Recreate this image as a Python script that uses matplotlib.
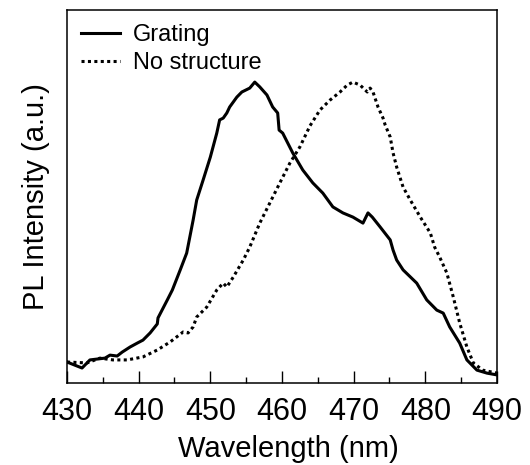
import numpy as np
import matplotlib.pyplot as plt
from matplotlib.ticker import MultipleLocator

plt.rcParams['font.family'] = ['Liberation Sans', 'DejaVu Sans']

# PL spectra (normalised, peak ~1)
grating_wl = [430, 432.1, 433.2, 435.3, 436, 437, 437.7, 438.8, 439.8, 440.6,
              441.6, 442.6, 442.7, 444, 444.7, 445.8, 446.7, 447.6, 448.1, 449,
              450, 450.9, 451.3, 451.8, 452.3, 452.7, 453.7, 454.4, 455.5, 456.2,
              456.9, 457.9, 458.7, 459.4, 459.6, 460.1, 461.5, 462.9, 464.3, 465.7,
              467.1, 468.5, 469.9, 471.3, 472, 472.6, 473.7, 475.1, 475.5, 476,
              476.9, 478.8, 480.2, 481.6, 482.5, 483.4, 484.8, 485.8, 487.2, 488.6,
              490]
grating_int = [0.07, 0.05, 0.077, 0.083, 0.093, 0.09, 0.103, 0.12, 0.133, 0.143,
               0.167, 0.197, 0.217, 0.277, 0.31, 0.377, 0.433, 0.543, 0.61, 0.677,
               0.753, 0.833, 0.877, 0.883, 0.9, 0.92, 0.953, 0.97, 0.983, 1.003,
               0.987, 0.96, 0.92, 0.9, 0.843, 0.833, 0.767, 0.71, 0.667, 0.633,
               0.587, 0.567, 0.553, 0.533, 0.567, 0.553, 0.52, 0.477, 0.443, 0.41,
               0.377, 0.333, 0.277, 0.243, 0.233, 0.187, 0.133, 0.077, 0.043, 0.033,
               0.027]

nostruct_wl = [430, 432.8, 434.6, 436.4, 438.4, 440.6, 442.6, 444.4, 446.2, 446.9,
               447.6, 448.1, 449.5, 450.9, 451.8, 452.3, 453.2, 454.6, 455.5, 456.9,
               458.3, 459.7, 461.1, 462.5, 463.9, 465.3, 466.7, 468.1, 469.1, 469.9,
               470.9, 471.9, 472.3, 472.7, 473.4, 474.1, 474.4, 475.1, 475.5, 476,
               476.9, 477.9, 479.3, 480.7, 481.3, 482, 483, 483.9, 484.8, 485.8,
               486.7, 488, 490]
nostruct_int = [0.07, 0.067, 0.083, 0.077, 0.077, 0.087, 0.11, 0.137, 0.17, 0.167,
                0.187, 0.22, 0.253, 0.31, 0.333, 0.32, 0.353, 0.41, 0.453, 0.533,
                0.6, 0.667, 0.733, 0.787, 0.857, 0.91, 0.943, 0.97, 0.993, 1.003,
                0.993, 0.97, 0.983, 0.97, 0.92, 0.883, 0.86, 0.82, 0.767, 0.72,
                0.653, 0.61, 0.553, 0.5, 0.453, 0.42, 0.367, 0.287, 0.2, 0.12,
                0.067, 0.043, 0.033]

fig = plt.figure(figsize=(5.3, 4.65), dpi=100)
ax = fig.add_axes([0.1264, 0.1763, 0.8113, 0.802])

ax.plot(grating_wl, grating_int, color='k', linewidth=2.2, label='Grating')
ax.plot(nostruct_wl, nostruct_int, color='k', linewidth=2.2,
        linestyle=(0, (1, 1.1)), label='No structure')

ax.set_xlim(430, 490)
ax.set_ylim(0, 1.243)
ax.xaxis.set_major_locator(MultipleLocator(10))
ax.xaxis.set_minor_locator(MultipleLocator(5))
ax.tick_params(axis='x', which='major', direction='in', length=8.5, width=1,
               labelsize=22, pad=10)
ax.tick_params(axis='x', which='minor', direction='in', length=4.5, width=1)
ax.set_yticks([])
for s in ax.spines.values():
    s.set_linewidth(1.1)

ax.set_xlabel('Wavelength (nm)', fontsize=21, labelpad=6)
ax.xaxis.label.set_x(0.515)
ax.set_ylabel('PL Intensity (a.u.)', fontsize=21, labelpad=12)

ax.legend(loc='upper left', fontsize=17, frameon=False, handlelength=1.65,
          handletextpad=0.55, labelspacing=0.25, borderaxespad=0.2)

fig.savefig('out.png', dpi=100)
